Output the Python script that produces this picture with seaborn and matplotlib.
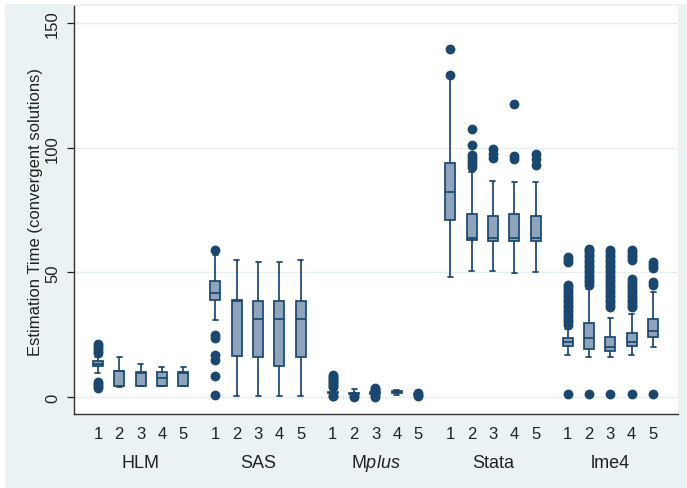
import numpy as np
import pandas as pd
import matplotlib
matplotlib.use("Agg")
import matplotlib.pyplot as plt
from matplotlib.patches import Rectangle
import seaborn as sns

# ---------------- data ----------------
software = ["HLM", "SAS", "Mplus", "Stata", "lme4"]
conditions = ["1", "2", "3", "4", "5"]

# five-number summaries per box: [lower whisker, Q1, median, Q3, upper whisker]
hlm_box = [
    [9.5, 12.3, 13.4, 14.3, 16.0],
    [4.2, 4.5, 10.3, 10.6, 16.2],
    [4.3, 4.6, 9.6, 9.9, 13.2],
    [4.3, 4.6, 7.6, 9.9, 12.2],
    [4.3, 4.6, 9.6, 9.9, 12.2],
]
sas_box = [
    [30.9, 38.9, 41.7, 46.4, 57.0],
    [0.5, 16.3, 38.6, 39.0, 55.0],
    [0.5, 16.0, 31.3, 38.5, 54.3],
    [0.5, 12.3, 31.2, 38.5, 54.3],
    [0.5, 16.0, 31.3, 38.5, 55.0],
]
mplus_box = [
    [1.0, 1.5, 1.8, 2.2, 3.2],
    [0.9, 1.1, 1.3, 1.6, 3.4],
    [0.9, 1.2, 1.5, 1.9, 2.6],
    [0.9, 1.5, 1.9, 2.3, 2.9],
    [1.0, 1.1, 1.2, 1.3, 1.5],
]
stata_box = [
    [48.3, 71.1, 82.4, 93.9, 128.0],
    [50.7, 63.1, 63.8, 73.4, 90.1],
    [50.4, 62.5, 63.7, 72.7, 86.5],
    [49.7, 62.5, 63.7, 73.4, 86.1],
    [50.0, 62.5, 63.7, 72.7, 86.2],
]
lme4_box = [
    [17.0, 20.3, 21.9, 23.5, 27.3],
    [16.2, 19.3, 23.5, 29.7, 43.3],
    [15.9, 18.6, 19.9, 24.2, 31.7],
    [17.0, 20.3, 21.9, 25.7, 33.3],
    [20.2, 24.0, 26.3, 31.3, 42.2],
]

# outlying values per box
hlm_out = [
    [3.5, 4.5, 5.2, 6.0, 17.5, 18.5, 19.5, 20.5, 21.3],
    [], [], [], [],
]
sas_out = [
    [0.9, 8.5, 15.0, 17.0, 23.5, 25.0, 59.0],
    [], [], [], [],
]
mplus_out = [
    [0.3, 0.6, 4.0, 4.6, 5.2, 5.8, 6.4, 7.0, 7.6, 8.2, 8.8],
    [0.2, 0.5],
    [0.2, 0.5, 3.0, 3.4, 3.8],
    [],
    [0.4, 0.8, 1.8],
]
stata_out = [
    [129.2, 139.4],
    [92.3, 93.5, 94.8, 96.0, 97.0, 101.1, 107.5],
    [95.7, 97.6, 99.5],
    [95.5, 96.7, 117.5],
    [93.2, 95.5, 97.5],
]
lme4_out = [
    [1.2, 29, 30, 31, 32, 33, 34, 35, 36, 37, 38, 39, 40, 41, 42, 43, 44, 45, 54, 55, 56],
    [1.2, 45, 46, 47, 48, 49, 50, 51, 52, 53, 54, 55, 56, 57, 58, 59, 59.5],
    [1.2, 36, 37, 38, 39, 40, 41, 42, 43, 44, 45, 46, 47, 48, 49, 50, 51, 52, 53, 54, 55,
     56, 57, 58, 59],
    [1.2, 36, 37, 38, 39, 40, 41, 42, 43, 44, 45, 46, 47.5, 55, 56, 57, 58, 59],
    [1.2, 45.0, 46.2, 51.7, 53.0, 54.3],
]

y_ticks = [0, 50, 100, 150]
y_label = "Estimation Time (convergent solutions)"

# ---------------- build tables ----------------
boxes = [hlm_box, sas_box, mplus_box, stata_box, lme4_box]
outs = [hlm_out, sas_out, mplus_out, stata_out, lme4_out]
group_step = 5.5

core_rows, out_rows, tick_pos, tick_lab = [], [], [], []
for g, (gb, go) in enumerate(zip(boxes, outs)):
    for i, cond in enumerate(conditions):
        pos = g * group_step + i
        tick_pos.append(pos)
        tick_lab.append(cond)
        for v in gb[i]:
            core_rows.append({"pos": pos, "value": v})
        for v in go[i]:
            out_rows.append({"pos": pos, "value": v})
core_df = pd.DataFrame(core_rows)
out_df = pd.DataFrame(out_rows)

# ---------------- style ----------------
navy = "#1A476F"
box_fill = "#8DA4BC"
outer_bg = "#EAF2F3"

sns.set_style("white")
plt.rcParams["font.family"] = ["Liberation Sans", "DejaVu Sans"]
plt.rcParams["mathtext.fontset"] = "custom"
plt.rcParams["mathtext.rm"] = "Liberation Sans"
plt.rcParams["mathtext.it"] = "Liberation Sans:italic"

fig = plt.figure(figsize=(6.87, 4.89), dpi=100)
fig.patch.set_facecolor("white")
fig.patches.append(Rectangle((5 / 687, 0), 682 / 687, 484 / 489,
                             transform=fig.transFigure, facecolor=outer_bg,
                             edgecolor="none", zorder=-10))
ax = fig.add_axes([74 / 687, 1 - 415 / 489, (678 - 74) / 687, (415 - 7) / 489])
ax.set_zorder(1)
ax.set_facecolor("white")

sns.boxplot(data=core_df, x="pos", y="value", native_scale=True,
            whis=(0, 100), width=0.47, color=box_fill, saturation=1,
            linecolor=navy, linewidth=1.25, showfliers=False, ax=ax)
ax.scatter(out_df["pos"], out_df["value"], s=50, color=navy,
           linewidths=0, zorder=4)

ax.set_xlim(-1.12, 27.17)
ax.set_ylim(-6.8, 156.8)
ax.set_xticks(tick_pos)
ax.set_xticklabels(tick_lab)
ax.set_yticks(y_ticks)
ax.set_yticklabels([str(t) for t in y_ticks], rotation=90, va="center")
ax.tick_params(axis="x", length=0, pad=8.5, labelsize=12, colors="#222222")
ax.tick_params(axis="y", length=5, width=0.9, pad=5, labelsize=12,
               colors="#222222", left=True)
ax.set_xlabel("")
ax.set_ylabel("")
ax.yaxis.grid(True, color="#E4EDF0", linewidth=1.0)
ax.xaxis.grid(False)
ax.set_axisbelow(True)
for s in ["top", "right"]:
    ax.spines[s].set_visible(False)
for s in ["left", "bottom"]:
    ax.spines[s].set_color("#333333")
    ax.spines[s].set_linewidth(1.0)

group_labels = ["HLM", "SAS", r"M$\mathit{plus}$", "Stata", "lme4"]
for g, lab in enumerate(group_labels):
    ax.text(g * group_step + 2, -0.1307, lab, transform=ax.get_xaxis_transform(),
            ha="center", va="baseline", fontsize=13, color="#222222")

fig.text(36 / 687, 1 - 212 / 489, y_label, rotation=90, ha="center",
         va="center", fontsize=12, color="#222222")

fig.savefig("out.png", dpi=100)
